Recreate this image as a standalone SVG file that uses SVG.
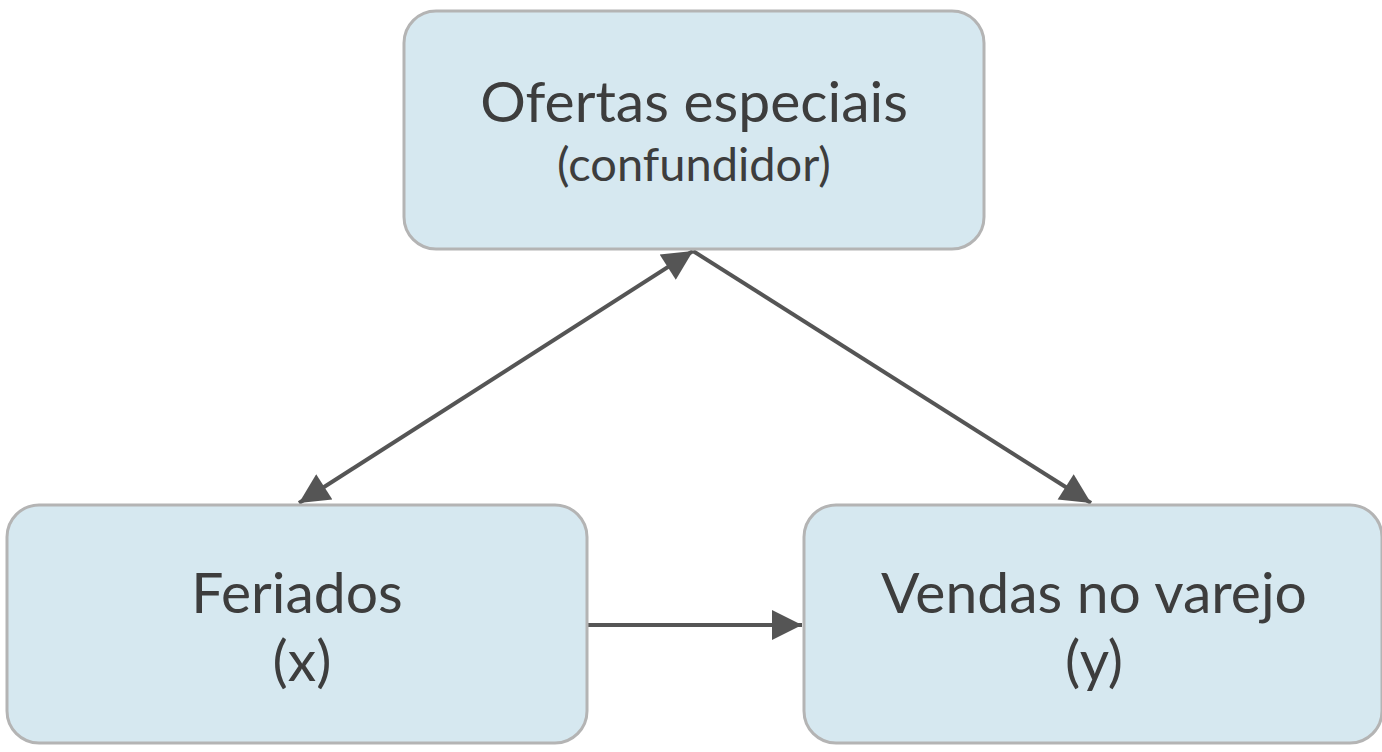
<svg xmlns="http://www.w3.org/2000/svg" width="1382" height="752" viewBox="0 0 1382 752">
<style>
.box{fill:#d6e8f0;stroke:#b4b4b4;stroke-width:3}
.t{font-family:Lato,"Liberation Sans",sans-serif;fill:#3d3d3d;text-anchor:middle}
.c{stroke:#555;stroke-width:4;fill:none}
</style>
<defs>
<marker id="b" viewBox="0 0 10 10" refX="10" refY="5" markerWidth="40" markerHeight="30" markerUnits="userSpaceOnUse" orient="auto-start-reverse">
<path d="M0,0L10,5L0,10z" fill="#555"/>
</marker>
</defs>
<rect width="1382" height="752" fill="#fff"/>
<g id="connectors">
<line class="c" x1="693" y1="251" x2="299" y2="503" marker-start="url(#b)" marker-end="url(#b)"/>
<line class="c" x1="693" y1="251" x2="1091" y2="503" marker-end="url(#b)"/>
<line class="c" x1="588" y1="625" x2="802" y2="625" marker-end="url(#b)"/>
</g>
<g id="ofertas">
<rect class="box" x="404" y="11" width="580" height="238" rx="32"/>
<text class="t" x="694" y="122" font-size="57">Ofertas especiais</text>
<text class="t" x="694" y="181" font-size="47">(confundidor)</text>
</g>
<g id="feriados">
<rect class="box" x="7" y="505" width="580" height="238" rx="32"/>
<text class="t" x="297" y="613" font-size="57">Feriados</text>
<text class="t" x="302" y="681" font-size="57">(x)</text>
</g>
<g id="vendas">
<rect class="box" x="804" y="505" width="578" height="238" rx="32"/>
<text class="t" x="1094" y="613" font-size="57">Vendas no varejo</text>
<text class="t" x="1094" y="681" font-size="57">(y)</text>
</g>
</svg>
